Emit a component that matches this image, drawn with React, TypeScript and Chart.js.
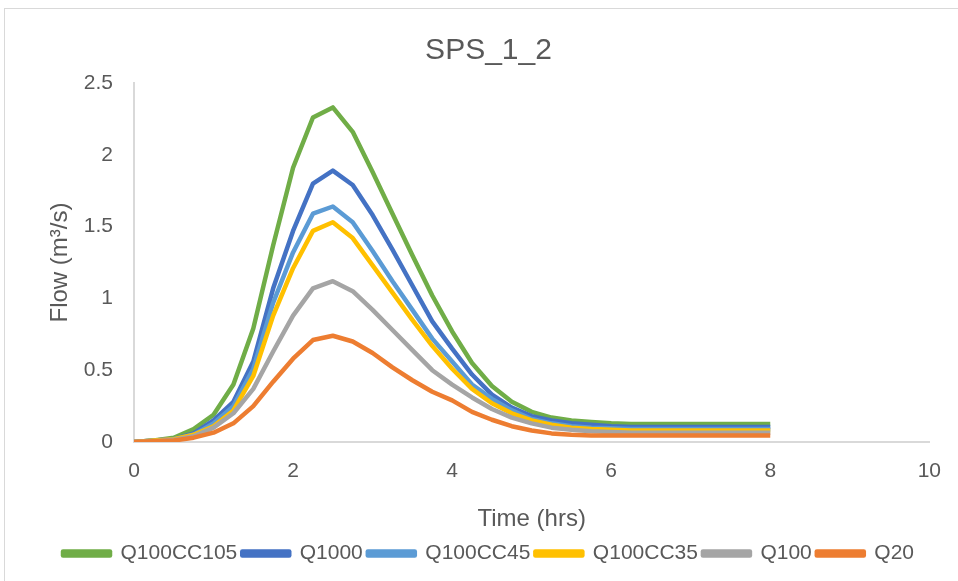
import React, { useEffect, useRef } from "react";
import { Chart, registerables } from "chart.js";

Chart.register(...registerables);

const TITLE = "SPS_1_2";
const X_TITLE = "Time (hrs)";
const Y_TITLE = "Flow (m³/s)";

const TIMES = [0, 0.25, 0.5, 0.75, 1, 1.25, 1.5, 1.75, 2, 2.25, 2.5, 2.75, 3, 3.25, 3.5, 3.75, 4, 4.25, 4.5, 4.75, 5, 5.25, 5.5, 5.75, 6, 6.25, 6.5, 6.75, 7, 7.25, 7.5, 7.75, 8];

const Q100CC105 = [0, 0.01, 0.03, 0.09, 0.19, 0.4, 0.79, 1.37, 1.91, 2.26, 2.33, 2.16, 1.88, 1.59, 1.3, 1.02, 0.77, 0.55, 0.39, 0.28, 0.21, 0.17, 0.15, 0.14, 0.13, 0.125, 0.125, 0.125, 0.125, 0.125, 0.125, 0.125, 0.125];
const Q1000 = [0, 0.01, 0.02, 0.06, 0.15, 0.28, 0.56, 1.07, 1.47, 1.8, 1.89, 1.79, 1.58, 1.34, 1.09, 0.84, 0.65, 0.47, 0.33, 0.24, 0.18, 0.15, 0.13, 0.12, 0.11, 0.105, 0.105, 0.105, 0.105, 0.105, 0.105, 0.105, 0.105];
const Q100CC45 = [0, 0.01, 0.02, 0.05, 0.13, 0.25, 0.51, 0.97, 1.32, 1.59, 1.64, 1.53, 1.33, 1.12, 0.92, 0.72, 0.56, 0.4, 0.3, 0.22, 0.16, 0.13, 0.11, 0.1, 0.095, 0.09, 0.09, 0.09, 0.09, 0.09, 0.09, 0.09, 0.09];
const Q100CC35 = [0, 0.01, 0.02, 0.05, 0.11, 0.22, 0.46, 0.88, 1.21, 1.47, 1.53, 1.42, 1.23, 1.04, 0.85, 0.67, 0.51, 0.37, 0.27, 0.2, 0.15, 0.12, 0.1, 0.09, 0.085, 0.08, 0.08, 0.08, 0.08, 0.08, 0.08, 0.08, 0.08];
const Q100 = [0, 0.005, 0.015, 0.04, 0.1, 0.2, 0.37, 0.63, 0.88, 1.07, 1.12, 1.05, 0.92, 0.78, 0.64, 0.5, 0.4, 0.31, 0.23, 0.17, 0.13, 0.1, 0.085, 0.075, 0.07, 0.065, 0.065, 0.065, 0.065, 0.065, 0.065, 0.065, 0.065];
const Q20 = [0, 0.005, 0.01, 0.03, 0.065, 0.13, 0.25, 0.42, 0.58, 0.71, 0.74, 0.7, 0.62, 0.52, 0.43, 0.35, 0.29, 0.21, 0.155, 0.11, 0.08, 0.06, 0.05, 0.045, 0.045, 0.045, 0.045, 0.045, 0.045, 0.045, 0.045, 0.045, 0.045];

const SERIES_NAMES = ["Q100CC105", "Q1000", "Q100CC45", "Q100CC35", "Q100", "Q20"];
const SERIES_VALUES = [Q100CC105, Q1000, Q100CC45, Q100CC35, Q100, Q20];
const SERIES_COLORS = ["#70AD47", "#4472C4", "#5B9BD5", "#FFC000", "#A5A5A5", "#ED7D31"];

const X_MIN = 0;
const X_MAX = 10;
const X_STEP = 2;
const Y_MIN = 0;
const Y_MAX = 2.5;
const Y_STEP = 0.5;

const FONT = "'Liberation Sans', Arial, sans-serif";
const TEXT = "#595959";
const AXIS = "#d9d9d9";

export default function App() {
  const ref = useRef<HTMLCanvasElement | null>(null);

  useEffect(() => {
    if (!ref.current) return;
    const datasets = SERIES_NAMES.map((name, i) => ({
      label: name,
      data: TIMES.map((t, k) => ({ x: t, y: SERIES_VALUES[i][k] })),
      borderColor: SERIES_COLORS[i],
      backgroundColor: SERIES_COLORS[i],
      borderWidth: 4.5,
      pointRadius: 0,
      tension: 0,
      fill: false,
      borderJoinStyle: "round" as const,
      order: SERIES_NAMES.length - i,
    }));

    const chart = new Chart(ref.current, {
      type: "line",
      data: { datasets },
      options: {
        animation: false,
        responsive: false,
        maintainAspectRatio: false,
        layout: { padding: { left: 41, right: 22, top: 8, bottom: 7 } },
        plugins: {
          title: {
            display: true,
            text: TITLE,
            color: TEXT,
            font: { family: FONT, size: 30, weight: "normal" },
            padding: { top: 25, bottom: 14 },
          },
          legend: {
            position: "bottom",
            labels: {
              color: TEXT,
              font: { family: FONT, size: 21 },
              boxWidth: 47,
              boxHeight: 4,
              padding: 5,
              sort: (a: any, b: any) => a.datasetIndex - b.datasetIndex,
            },
          },
          tooltip: { enabled: false },
        },
        scales: {
          x: {
            type: "linear",
            min: X_MIN,
            max: X_MAX,
            afterFit: (s: any) => { s.height = 96; },
            ticks: {
              stepSize: X_STEP,
              color: TEXT,
              font: { family: FONT, size: 21 },
              padding: 17,
              callback: (v: any) => `${Number(v)}`,
            },
            grid: { display: false, drawTicks: false },
            border: { display: true, color: AXIS, width: 2 },
            title: {
              display: true,
              text: X_TITLE,
              color: TEXT,
              font: { family: FONT, size: 24 },
              padding: { top: 0, bottom: 4 },
            },
          },
          y: {
            type: "linear",
            min: Y_MIN,
            max: Y_MAX,
            afterFit: (s: any) => { s.width = 93; },
            ticks: {
              stepSize: Y_STEP,
              color: TEXT,
              font: { family: FONT, size: 21 },
              padding: 21,
              callback: (v: any) => `${Number(v)}`,
            },
            grid: { display: false, drawTicks: false },
            border: { display: true, color: AXIS, width: 2 },
            title: {
              display: true,
              text: Y_TITLE,
              color: TEXT,
              font: { family: FONT, size: 24 },
              padding: { top: 5, bottom: 0 },
            },
          },
        },
      },
    });
    return () => chart.destroy();
  }, []);

  return (
    <div style={{ position: "absolute", left: 0, top: 0, width: 958, height: 581, background: "#fff", overflow: "hidden" }}>
      <div style={{ position: "absolute", left: 4, top: 8, width: 980, height: 600, borderLeft: "1px solid #d9d9d9", borderTop: "1px solid #d9d9d9" }} />
      <canvas ref={ref} width={958} height={581} style={{ position: "absolute", left: 0, top: 0 }} />
    </div>
  );
}
